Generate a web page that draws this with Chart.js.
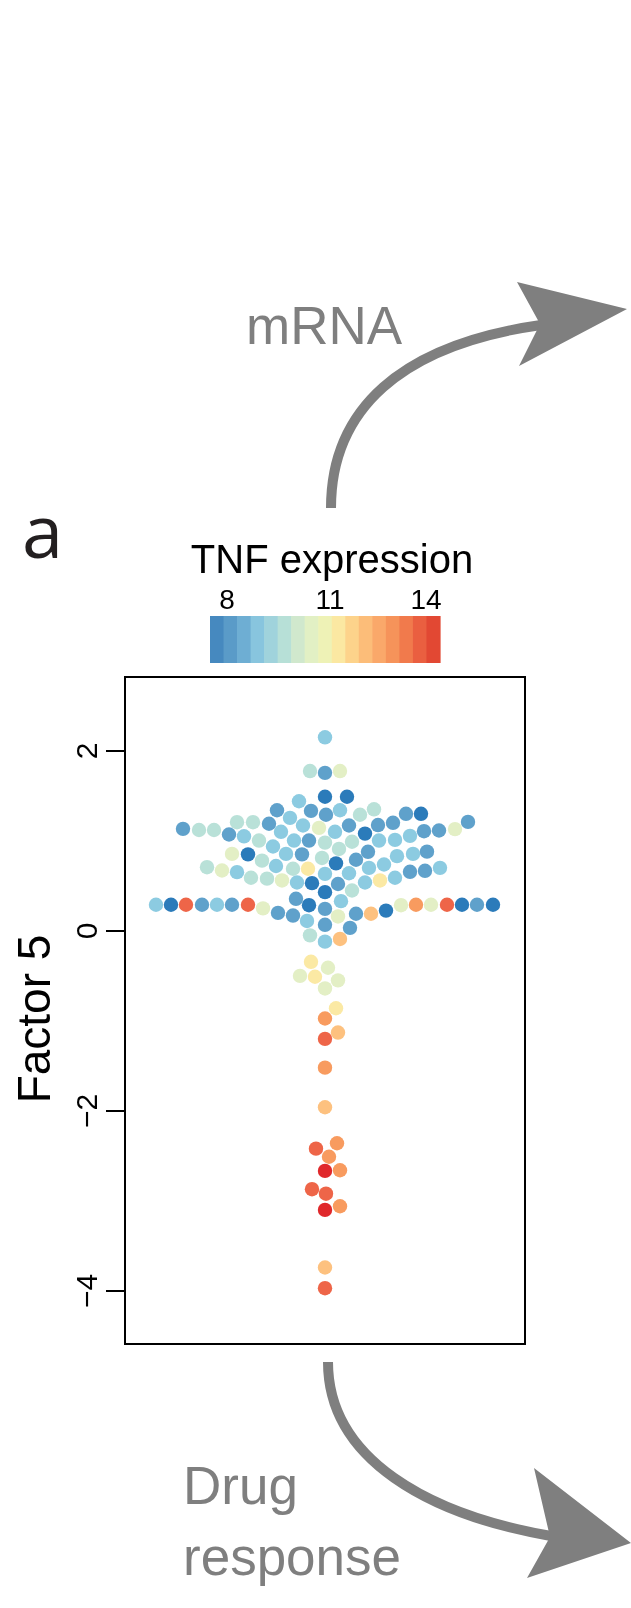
<!DOCTYPE html>
<html><head><meta charset="utf-8">
<script src="https://cdn.jsdelivr.net/npm/chart.js@4/dist/chart.umd.min.js"></script>
<style>
html,body{margin:0;padding:0;background:#fff;}
#wrap{position:relative;width:631px;height:1608px;overflow:hidden;background:#fff;}
#c{position:absolute;left:0;top:0;}
#deco{position:absolute;left:0;top:0;}
</style></head><body>
<div id="wrap">
<canvas id="c" width="631" height="1608"></canvas>
<svg id="deco" width="631" height="1608" xmlns="http://www.w3.org/2000/svg"></svg>
</div>
<script>
// ---- data ----
// Factor 5 value of each sample
const factor5 = [2.15,1.775,1.755,1.775,1.49,1.49,1.44,1.34,1.333,1.29,1.34,1.29,1.35,1.30,1.30,1.21,
1.133,1.12,1.12,1.207,1.207,1.07,1.05,1.19,1.255,1.17,1.10,1.144,1.10,1.17,1.08,1.175,1.20,1.107,1.115,1.13,
1.003,1.003,1.003,0.98,0.91,0.99,1.003,1.01,1.055,0.937,0.855,0.85,0.78,0.855,0.85,0.81,0.878,0.83,0.855,0.88,
0.707,0.67,0.652,0.59,0.58,0.72,0.69,0.69,0.75,0.79,0.633,0.64,0.70,0.737,0.656,0.667,0.70,0.59,0.56,0.537,
0.56,0.537,0.53,0.52,0.43,0.448,0.356,0.33,
0.29,0.29,0.29,0.29,0.29,0.29,0.29,0.25,0.20,0.17,0.285,0.244,0.16,0.19,0.19,0.225,0.285,0.29,0.29,0.29,0.29,0.29,0.29,
0.11,0.067,0.033,-0.05,-0.12,-0.09,-0.344,-0.41,-0.50,-0.51,-0.55,-0.64,-0.86,-0.974,-1.13,-1.20,-1.52,-1.96,
-2.36,-2.42,-2.51,-2.667,-2.66,-2.87,-2.92,-3.10,-3.06,-3.74,-3.97];
// horizontal beeswarm offset of each sample (swarm units)
const swarmOffset = [0,-15,0,15,0,22,-26,-48,-14,1,15,35,49,81,96,143,
-142,-126,-111,-88,-72,-96,-81,-56,-35,-22,-44,-6,10,24,40,53,68,99,114,130,
-66,-31,-16,0,14,27,54,70,85,-52,-93,-77,-63,-39,-23,-3,43,72,88,102,
-118,-103,-88,-74,-58,-49,-32,-17,11,31,0,24,44,59,85,100,115,70,55,40,
-43,-28,-13,13,0,27,-29,16,
-169,-154,-139,-123,-108,-93,-77,-62,-47,-32,-16,0,13,31,46,61,76,91,106,122,137,152,168,
-18,0,25,-15,0,15,-14,3,-25,-10,13,0,11,0,13,0,0,0,
12,-9,4,0,15,-13,1,0,15,0,0];
// TNF expression of each sample
const tnfExpression = [9.0,10.0,8.0,10.8,7.0,7.0,9.0,8.0,8.0,8.0,9.0,10.0,10.0,8.0,7.0,8.0,
8.0,10.0,10.0,10.0,10.0,8.0,9.0,8.0,9.0,9.0,9.0,10.8,9.0,8.0,7.0,8.0,8.0,8.0,8.0,10.8,
10.0,9.0,8.0,10.0,10.0,10.0,9.0,9.0,9.0,9.0,10.8,7.0,10.0,9.0,8.0,10.0,8.0,9.0,9.0,8.0,
10.0,10.8,9.0,10.0,10.0,9.0,10.0,11.5,7.0,8.0,9.0,9.0,9.0,9.0,8.0,8.0,9.0,9.0,11.5,9.0,
10.8,9.0,7.0,8.0,7.0,10.0,8.0,9.0,
9.0,7.0,14.0,8.0,9.0,8.0,14.0,10.8,8.0,8.0,7.0,8.0,10.8,8.0,12.3,7.0,10.8,13.1,10.8,14.0,7.0,8.0,7.0,
9.0,8.0,8.0,10.0,9.0,12.3,11.5,10.8,10.8,11.5,10.8,10.8,11.5,13.1,12.3,14.0,13.1,12.3,
13.1,14.0,13.1,14.8,13.1,14.0,14.0,14.8,13.1,12.3,14.0];
const yTicks = [-4, -2, 0, 2];
const colorbarTicks = ['8', '11', '14'];
const colorbarColors = ['#4689bf','#5a9bc8','#6eaed3','#88c5de','#a0d3dc','#b7e0d7','#d0e8cd','#e2f0c4',
'#eef2b6','#fbe8a2','#fdd38b','#fcbd79','#faa86a','#f6935a','#f17a4c','#ea5f40','#e24833'];
// colour scale used for the points: [TNF value, colour]
const colorStops = [[7.0,'#2b7bba'],[8.0,'#5fa1cb'],[9.0,'#8ccbe1'],[10.0,'#b9e1d8'],[10.8,'#e3efc5'],
[11.5,'#fbe9a4'],[12.3,'#fdc17f'],[13.1,'#f89b5f'],[14.0,'#ee6548'],[14.8,'#e0282b']];

function hex2rgb(h){return [parseInt(h.substr(1,2),16),parseInt(h.substr(3,2),16),parseInt(h.substr(5,2),16)];}
function tnfColor(v){
  if (v <= colorStops[0][0]) return colorStops[0][1];
  for (let i=1;i<colorStops.length;i++){
    if (v <= colorStops[i][0]) {
      const [a,ca]=colorStops[i-1],[b,cb]=colorStops[i];
      const t=(v-a)/(b-a), A=hex2rgb(ca), B=hex2rgb(cb);
      return 'rgb('+A.map((x,k)=>Math.round(x+(B[k]-x)*t)).join(',')+')';
    }
  }
  return colorStops[colorStops.length-1][1];
}

const points = factor5.map((y,i)=>({x: swarmOffset[i], y: y}));
const pointColors = tnfExpression.map(tnfColor);

const boxPlugin = {
  id:'box',
  afterDatasetsDraw(chart){
    const a = chart.chartArea, ctx = chart.ctx;
    ctx.save(); ctx.strokeStyle='#000'; ctx.lineWidth=2;
    ctx.strokeRect(a.left, a.top, a.right-a.left, a.bottom-a.top);
    ctx.restore();
  }
};

const FONT = "'Liberation Sans', Arial, Helvetica, sans-serif";
new Chart(document.getElementById('c'), {
  type:'scatter',
  data:{datasets:[{data:points, pointBackgroundColor:pointColors, pointBorderWidth:0, pointRadius:7.2, pointHoverRadius:7.2}]},
  options:{
    responsive:false, animation:false, devicePixelRatio:1,
    layout:{padding:{left:0, top:677, right:106, bottom:264}},
    plugins:{legend:{display:false}, tooltip:{enabled:false}},
    scales:{
      x:{type:'linear', min:-200, max:200, display:false},
      y:{type:'linear', min:-4.59, max:2.82,
        afterBuildTicks: s => { s.ticks = yTicks.map(v=>({value:v})); },
        afterFit: s => { s.width = 125; },
        grid:{display:true, drawOnChartArea:false, drawTicks:true, tickLength:19, tickWidth:2, tickColor:'#000', color:'#000', lineWidth:2},
        border:{display:false},
        ticks:{color:'#000', font:{family:FONT, size:30}, minRotation:90, maxRotation:90, crossAlign:'center', padding:0,
          callback: v => v < 0 ? '\u2212' + Math.abs(v) : String(v)},
        title:{display:false}
      }
    }
  },
  plugins:[boxPlugin]
});

// ---- decorations ----
const NS='http://www.w3.org/2000/svg', svg=document.getElementById('deco');
function el(tag, attrs, text){const e=document.createElementNS(NS,tag);for(const k in attrs)e.setAttribute(k,attrs[k]);if(text!==undefined)e.textContent=text;svg.appendChild(e);return e;}
const GREY='#7f7f7f';
// y axis title
el('text',{x:50, y:1019, transform:'rotate(-90 50 1019)', 'text-anchor':'middle', 'font-family':FONT, 'font-size':46, fill:'#000'}, 'Factor 5');
// colour bar
const cbX=210, cbW=230, cbY=616, cbH=47, sw=cbW/colorbarColors.length;
colorbarColors.forEach((c,i)=>el('rect',{x:cbX+i*sw, y:cbY, width:sw+0.6, height:cbH, fill:c}));
const cbLabelX=[227,330,426];
colorbarTicks.forEach((t,i)=>el('text',{x:cbLabelX[i], y:609, 'text-anchor':'middle', 'font-family':FONT, 'font-size':28, fill:'#000'}, t));
el('text',{x:332, y:573, 'text-anchor':'middle', 'font-family':FONT, 'font-size':40, fill:'#000'}, 'TNF expression');
el('text',{x:22, y:558, 'font-family':"'Open Sans', sans-serif", 'font-size':74, fill:'#231f20'}, 'a');
// arrows
el('path',{d:'M331 508 C331 410 400 345 541 325', stroke:GREY, 'stroke-width':10, fill:'none'});
el('polygon',{points:'517,282 627,309 519,366 540,324', fill:GREY});
el('path',{d:'M328 1362 C328 1460 430 1515 551 1536', stroke:GREY, 'stroke-width':10, fill:'none'});
el('polygon',{points:'534,1468 631,1543 527,1578 550,1537', fill:GREY});
el('text',{x:246, y:344, 'font-family':FONT, 'font-size':53, fill:GREY}, 'mRNA');
el('text',{x:183, y:1504, 'font-family':FONT, 'font-size':53, fill:GREY}, 'Drug');
el('text',{x:183, y:1575, 'font-family':FONT, 'font-size':53, fill:GREY}, 'response');
</script>
</body></html>
